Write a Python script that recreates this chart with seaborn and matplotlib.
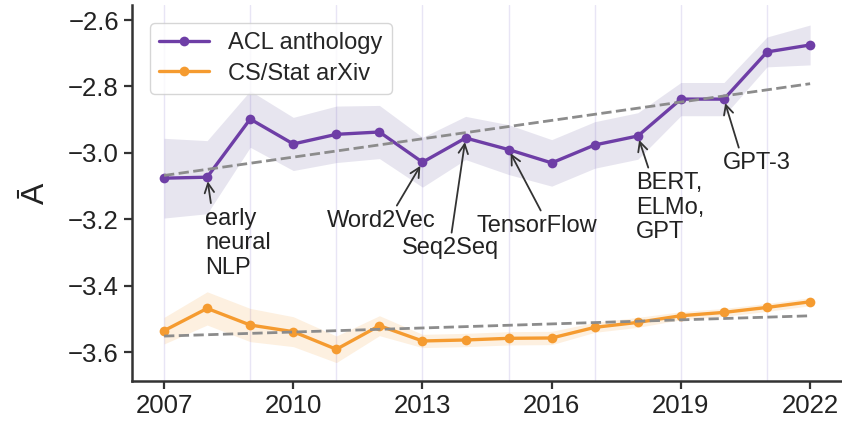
import numpy as np
import pandas as pd
import matplotlib.pyplot as plt
import seaborn as sns


# DATA
years = list(range(2007, 2023))

acl_mean = [-3.076, -3.073, -2.898, -2.973, -2.944, -2.937, -3.028, -2.955,
            -2.990, -3.030, -2.976, -2.949, -2.838, -2.838, -2.696, -2.675]
acl_ci = [0.12, 0.11, 0.085, 0.08, 0.085, 0.08, 0.075, 0.065,
          0.075, 0.07, 0.07, 0.07, 0.05, 0.05, 0.045, 0.06]

arxiv_mean = [-3.535, -3.468, -3.518, -3.538, -3.591, -3.520, -3.566, -3.563,
              -3.558, -3.557, -3.525, -3.510, -3.490, -3.480, -3.465, -3.448]
arxiv_ci = [0.04, 0.05, 0.05, 0.045, 0.04, 0.03, 0.02, 0.02,
            0.02, 0.02, 0.015, 0.015, 0.012, 0.012, 0.012, 0.012]

tick_years = [2007, 2010, 2013, 2016, 2019, 2022]
y_ticks = [-3.6, -3.4, -3.2, -3.0, -2.8, -2.6]
guide_years = [2007, 2009, 2011, 2013, 2015, 2017, 2019, 2021]

event_labels = ["early\nneural\nNLP", "Word2Vec", "Seq2Seq", "TensorFlow",
                "BERT,\nELMo,\nGPT", "GPT-3"]
event_years = [2008, 2013, 2014, 2015, 2018, 2020]


# STYLE
sns.set_theme(style="ticks")
plt.rcParams["font.family"] = ["Liberation Sans", "DejaVu Sans"]

purple = "#6e3ea6"
orange = "#f59b30"

fig = plt.figure(figsize=(8.42, 4.24), dpi=100)
ax = fig.add_axes([0.157, 0.101, 0.843, 0.887])

for yr in guide_years:
    ax.axvline(yr, color="#e8e5f5", lw=1.0, zorder=0)


# BANDS + LINES
acl_lo = np.array(acl_mean) - np.array(acl_ci)
acl_hi = np.array(acl_mean) + np.array(acl_ci)
arx_lo = np.array(arxiv_mean) - np.array(arxiv_ci)
arx_hi = np.array(arxiv_mean) + np.array(arxiv_ci)

ax.fill_between(years, acl_lo, acl_hi, color="#6d5fa0", alpha=0.16, lw=0)
ax.fill_between(years, arx_lo, arx_hi, color=orange, alpha=0.15, lw=0)

sns.lineplot(x=years, y=acl_mean, color=purple, marker="o", markersize=7,
             markeredgewidth=0, lw=2.4, label="ACL anthology", ax=ax)
sns.lineplot(x=years, y=arxiv_mean, color=orange, marker="o", markersize=7,
             markeredgewidth=0, lw=2.4, label="CS/Stat arXiv", ax=ax)

# linear trends
sns.regplot(x=years, y=acl_mean, scatter=False, ci=None, color="#8c8c8c",
            line_kws=dict(ls="--", lw=2), ax=ax)
sns.regplot(x=years, y=arxiv_mean, scatter=False, ci=None, color="#8c8c8c",
            line_kws=dict(ls="--", lw=2), ax=ax)


# ANNOTATIONS
text_pos = [(2007.95, -3.165), (2012.04, -3.205), (2013.66, -3.287),
            (2015.66, -3.22), (2017.96, -3.058), (2020.77, -3.031)]
text_align = [("left", "top"), ("center", "center"), ("center", "center"),
              ("center", "center"), ("left", "top"), ("center", "center")]
rel_pos = [(0.1, 1.0), (0.62, 1.0), (0.5, 1.0), (0.55, 1.0), (0.2, 1.0), (0.25, 1.0)]

for label, yr, pos, al, rp in zip(event_labels, event_years, text_pos,
                                  text_align, rel_pos):
    val = acl_mean[years.index(yr)]
    ax.annotate(
        label,
        xy=(yr, val),
        xytext=pos,
        ha=al[0],
        va=al[1],
        fontsize=17,
        color="#222222",
        linespacing=1.15,
        arrowprops=dict(arrowstyle="->", color="#333333", lw=1.3,
                        relpos=rp, shrinkA=1, shrinkB=3),
    )


# AXES
ax.set_xlim(2006.26, 2022.74)
ax.set_ylim(-3.687, -2.555)
ax.set_xticks(tick_years)
ax.set_yticks(y_ticks)
ax.set_yticklabels([f"{t:.1f}".replace("-", "\u2212") for t in y_ticks])
ax.tick_params(axis="both", labelsize=18.5, length=6, width=1.6,
               color="#333333", labelcolor="#222222")
ax.set_xlabel("")
ax.set_ylabel("\u0100", fontsize=23, color="#222222", labelpad=12)

for side in ["left", "bottom"]:
    ax.spines[side].set_linewidth(1.8)
    ax.spines[side].set_color("#333333")
sns.despine(ax=ax)

ax.legend(loc="upper left", fontsize=17, frameon=True, borderaxespad=0.75,
          handlelength=2.1, labelspacing=0.35, borderpad=0.4,
          edgecolor="#cccccc")

plt.savefig("out.png", dpi=100)
